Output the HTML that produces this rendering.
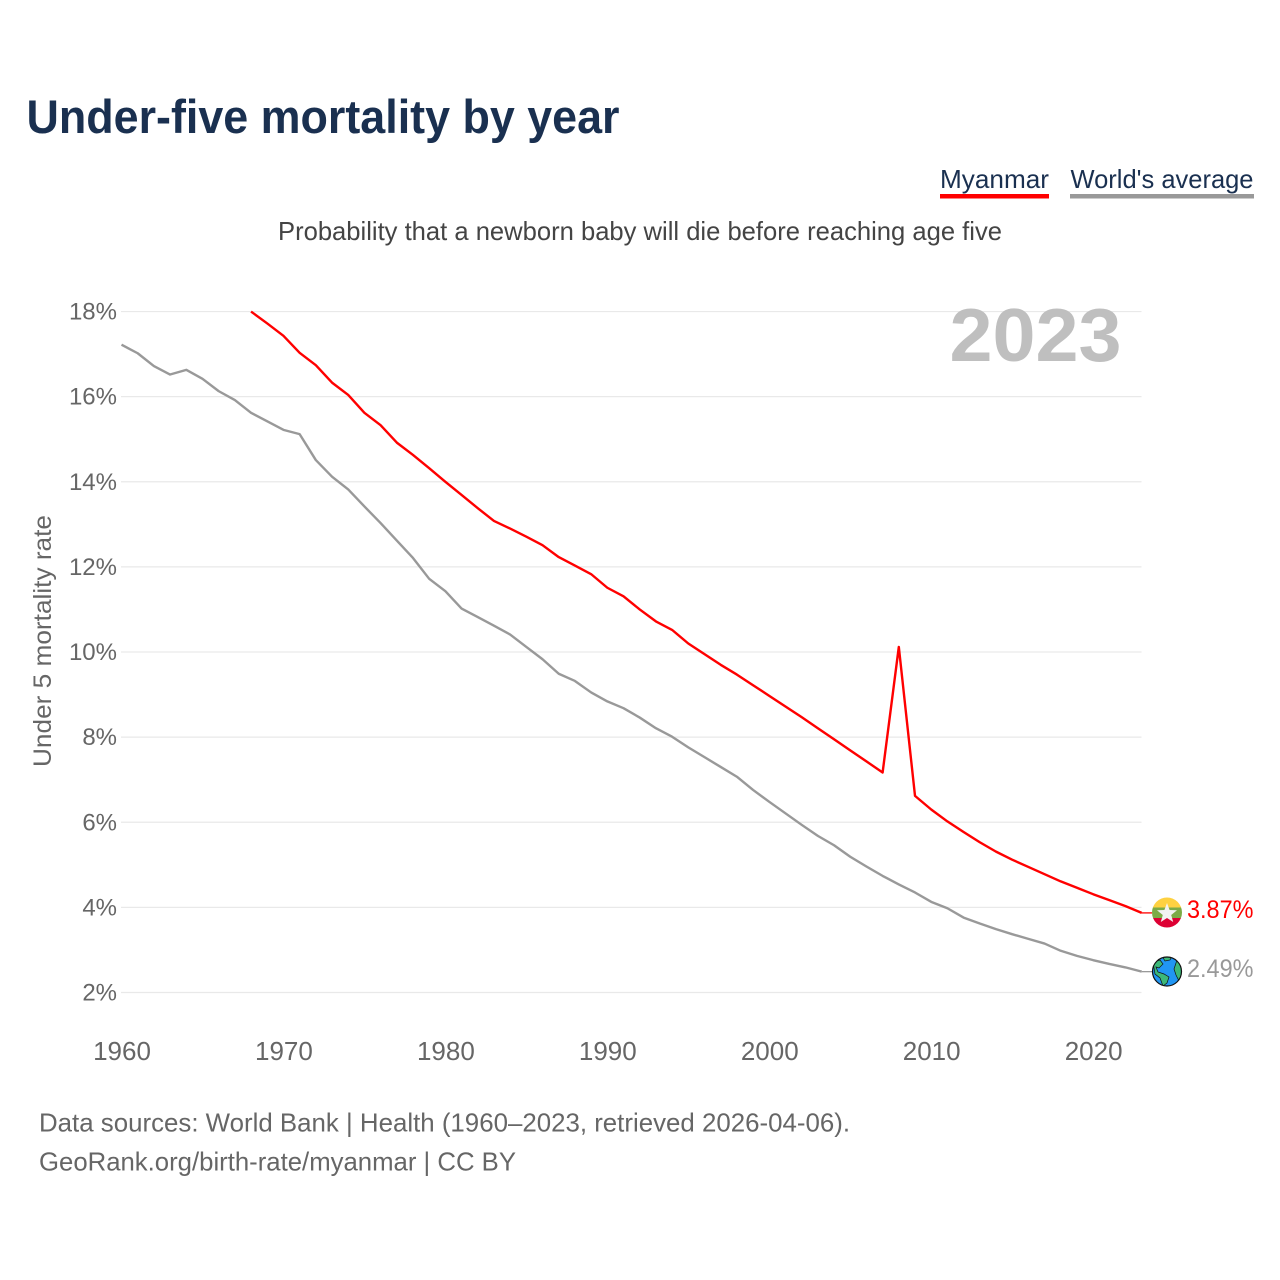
<!DOCTYPE html>
<html lang="en">
<head>
<meta charset="utf-8">
<title>Under-five mortality by year</title>
<style>
html,body{margin:0;padding:0;background:#fff}
svg{display:block}
text{font-family:"Liberation Sans",sans-serif}
</style>
</head>
<body>
<svg id="chart" xmlns="http://www.w3.org/2000/svg" width="1280" height="1280" viewBox="0 0 1280 1280">
  <rect x="0" y="0" width="1280" height="1280" fill="#fff"/>
  <text x="26.5" y="133" font-size="47" font-weight="700" fill="#1a3050" textLength="593" lengthAdjust="spacingAndGlyphs">Under-five mortality by year</text>

  <g>
    <text x="940" y="188" font-size="26" fill="#1a3050" textLength="109" lengthAdjust="spacingAndGlyphs">Myanmar</text>
    <rect x="940" y="194" width="109" height="4.5" fill="#ff0000"/>
  </g>
  <g>
    <text x="1070.5" y="188" font-size="26" fill="#1a3050" textLength="183" lengthAdjust="spacingAndGlyphs">World's average</text>
    <rect x="1070" y="194" width="184" height="4.5" fill="#999999"/>
  </g>

  <text x="278" y="240" font-size="26" fill="#444444" textLength="724" lengthAdjust="spacingAndGlyphs">Probability that a newborn baby will die before reaching age five</text>

  <g id="grid"></g>
  <g id="yticks"></g>
  <g id="xticks"></g>

  <text x="949.5" y="361" font-size="75" font-weight="700" fill="#bfbfbf" textLength="172" lengthAdjust="spacingAndGlyphs">2023</text>

  <text transform="translate(51 767) rotate(-90)" x="0" y="0" font-size="25" fill="#666666" textLength="252" lengthAdjust="spacingAndGlyphs">Under 5 mortality rate</text>

  <g id="series"></g>

  <g>
    <defs><clipPath id="flagclip"><circle cx="1167" cy="912.5" r="15"/></clipPath></defs>
    <g clip-path="url(#flagclip)">
      <rect x="1150" y="897" width="34" height="10.5" fill="#fed141"/>
      <rect x="1150" y="907.5" width="34" height="10.5" fill="#7cab46"/>
      <rect x="1150" y="918" width="34" height="11" fill="#dd0033"/>
    </g>
    <polygon points="1167,903 1169.6,910 1177,910.3 1171.2,915 1173.2,922 1167,918 1160.8,922 1162.8,915 1157,910.3 1164.4,910" fill="#f2f2f2"/>
  </g>
  <g>
    <defs><clipPath id="globeclip"><circle cx="1167" cy="971.5" r="14.5"/></clipPath></defs>
    <circle cx="1167" cy="971.5" r="14.5" fill="#2196f3"/>
    <g clip-path="url(#globeclip)" fill="#3cb878" stroke="#111" stroke-width="0.7">
      <path d="M1153 962 L1160 960 L1163 964 L1159 968 L1156 967 L1158 972 L1164 974 L1169 977 L1167 983 L1163 986 L1160 978 L1155 974 Z"/>
      <path d="M1177 960 L1183 967 L1183 977 L1179 981 L1176 975 L1174 969 Z"/>
      <path d="M1162 956 L1172 956 L1170 960 L1165 961 Z"/>
    </g>
    <circle cx="1167" cy="971.5" r="14.5" fill="none" stroke="#111" stroke-width="1.2"/>
  </g>

  <text x="1187" y="918" font-size="25" fill="#ff0000" textLength="66.5" lengthAdjust="spacingAndGlyphs" id="labelMM">3.87%</text>
  <text x="1187" y="977" font-size="25" fill="#999999" textLength="66.5" lengthAdjust="spacingAndGlyphs" id="labelWD">2.49%</text>

  <text x="39" y="1131.5" font-size="26" fill="#666666" textLength="811" lengthAdjust="spacingAndGlyphs">Data sources: World Bank | Health (1960–2023, retrieved 2026-04-06).</text>
  <text x="39" y="1170.5" font-size="26" fill="#666666" textLength="477" lengthAdjust="spacingAndGlyphs">GeoRank.org/birth-rate/myanmar | CC BY</text>
</svg>

<script>
var worldYears = [1960,1961,1962,1963,1964,1965,1966,1967,1968,1969,1970,1971,1972,1973,1974,1975,1976,1977,1978,1979,1980,1981,1982,1983,1984,1985,1986,1987,1988,1989,1990,1991,1992,1993,1994,1995,1996,1997,1998,1999,2000,2001,2002,2003,2004,2005,2006,2007,2008,2009,2010,2011,2012,2013,2014,2015,2016,2017,2018,2019,2020,2021,2022,2023];
var worldValues = [17.22,17.02,16.72,16.52,16.63,16.42,16.13,15.92,15.62,15.42,15.22,15.12,14.51,14.12,13.82,13.42,13.03,12.62,12.21,11.72,11.43,11.02,10.82,10.62,10.41,10.12,9.83,9.49,9.32,9.05,8.84,8.68,8.46,8.21,8.01,7.76,7.53,7.3,7.07,6.76,6.48,6.21,5.94,5.68,5.46,5.19,4.96,4.74,4.54,4.35,4.13,3.98,3.76,3.62,3.49,3.37,3.26,3.15,2.98,2.86,2.76,2.67,2.59,2.49];
var myanmarYears = [1968,1969,1970,1971,1972,1973,1974,1975,1976,1977,1978,1979,1980,1981,1982,1983,1984,1985,1986,1987,1988,1989,1990,1991,1992,1993,1994,1995,1996,1997,1998,1999,2000,2001,2002,2003,2004,2005,2006,2007,2008,2009,2010,2011,2012,2013,2014,2015,2016,2017,2018,2019,2020,2021,2022,2023];
var myanmarValues = [18.0,17.72,17.43,17.03,16.74,16.33,16.04,15.62,15.33,14.92,14.63,14.32,14.0,13.69,13.38,13.08,12.9,12.71,12.51,12.23,12.03,11.83,11.51,11.31,11.0,10.72,10.52,10.2,9.95,9.7,9.47,9.22,8.97,8.72,8.47,8.21,7.95,7.69,7.43,7.17,10.12,6.62,6.3,6.02,5.77,5.53,5.31,5.12,4.95,4.78,4.61,4.46,4.31,4.17,4.03,3.87];
var yTickValues = [2,4,6,8,10,12,14,16,18];
var xTickYears = [1960,1970,1980,1990,2000,2010,2020];

var NS = 'http://www.w3.org/2000/svg';
function xScale(year){ return 121.5 + (year - 1960) * 16.194; }
function yScale(v){ return 992.5 - (v - 2) * 42.56; }

var gridG = document.getElementById('grid');
var yG = document.getElementById('yticks');
var xG = document.getElementById('xticks');
var seriesG = document.getElementById('series');

yTickValues.forEach(function(v){
  var line = document.createElementNS(NS, 'line');
  
  
  line.setAttribute('x1', 121);
  line.setAttribute('x2', 1141.5);
  line.setAttribute('y1', yScale(v));
  line.setAttribute('y2', yScale(v));
  line.setAttribute('stroke', '#e9e9e9');
  line.setAttribute('stroke-width', '1.2');
  gridG.appendChild(line);

  var t = document.createElementNS(NS, 'text');
  
  
  t.setAttribute('x', 117);
  t.setAttribute('y', yScale(v) + 8);
  t.setAttribute('text-anchor', 'end');
  t.setAttribute('font-size', '24');
  t.setAttribute('fill', '#666666');
  t.textContent = v + '%';
  yG.appendChild(t);
});

xTickYears.forEach(function(year){
  var t = document.createElementNS(NS, 'text');
  
  
  t.setAttribute('x', xScale(year) + 0.5);
  t.setAttribute('y', 1060);
  t.setAttribute('text-anchor', 'middle');
  t.setAttribute('font-size', '26');
  t.setAttribute('fill', '#666666');
  t.textContent = year;
  xG.appendChild(t);
});

function pathFor(years, values){
  var pts = years.map(function(year, i){
    return xScale(year).toFixed(2) + ',' + yScale(values[i]).toFixed(2);
  });
  return pts.join(' ');
}

function leaderFor(values){
  var last = values[values.length - 1];
  return xScale(2023).toFixed(2) + ',' + yScale(last).toFixed(2) + ' 1152,' + yScale(last).toFixed(2);
}

var worldLine = document.createElementNS(NS, 'polyline');


worldLine.setAttribute('points', pathFor(worldYears, worldValues));
worldLine.setAttribute('fill', 'none');
worldLine.setAttribute('stroke', '#999999');
worldLine.setAttribute('stroke-width', '2.4');
worldLine.setAttribute('stroke-linejoin', 'round');
seriesG.appendChild(worldLine);

var worldLeader = document.createElementNS(NS, 'polyline');


worldLeader.setAttribute('points', leaderFor(worldValues));
worldLeader.setAttribute('fill', 'none');
worldLeader.setAttribute('stroke', '#999999');
worldLeader.setAttribute('stroke-width', '1.3');
seriesG.appendChild(worldLeader);

var myanmarLine = document.createElementNS(NS, 'polyline');


myanmarLine.setAttribute('points', pathFor(myanmarYears, myanmarValues));
myanmarLine.setAttribute('fill', 'none');
myanmarLine.setAttribute('stroke', '#ff0000');
myanmarLine.setAttribute('stroke-width', '2.4');
myanmarLine.setAttribute('stroke-linejoin', 'round');
seriesG.appendChild(myanmarLine);

var myanmarLeader = document.createElementNS(NS, 'polyline');


myanmarLeader.setAttribute('points', leaderFor(myanmarValues));
myanmarLeader.setAttribute('fill', 'none');
myanmarLeader.setAttribute('stroke', '#ff0000');
myanmarLeader.setAttribute('stroke-width', '1.3');
seriesG.appendChild(myanmarLeader);
</script>
</body>
</html>
